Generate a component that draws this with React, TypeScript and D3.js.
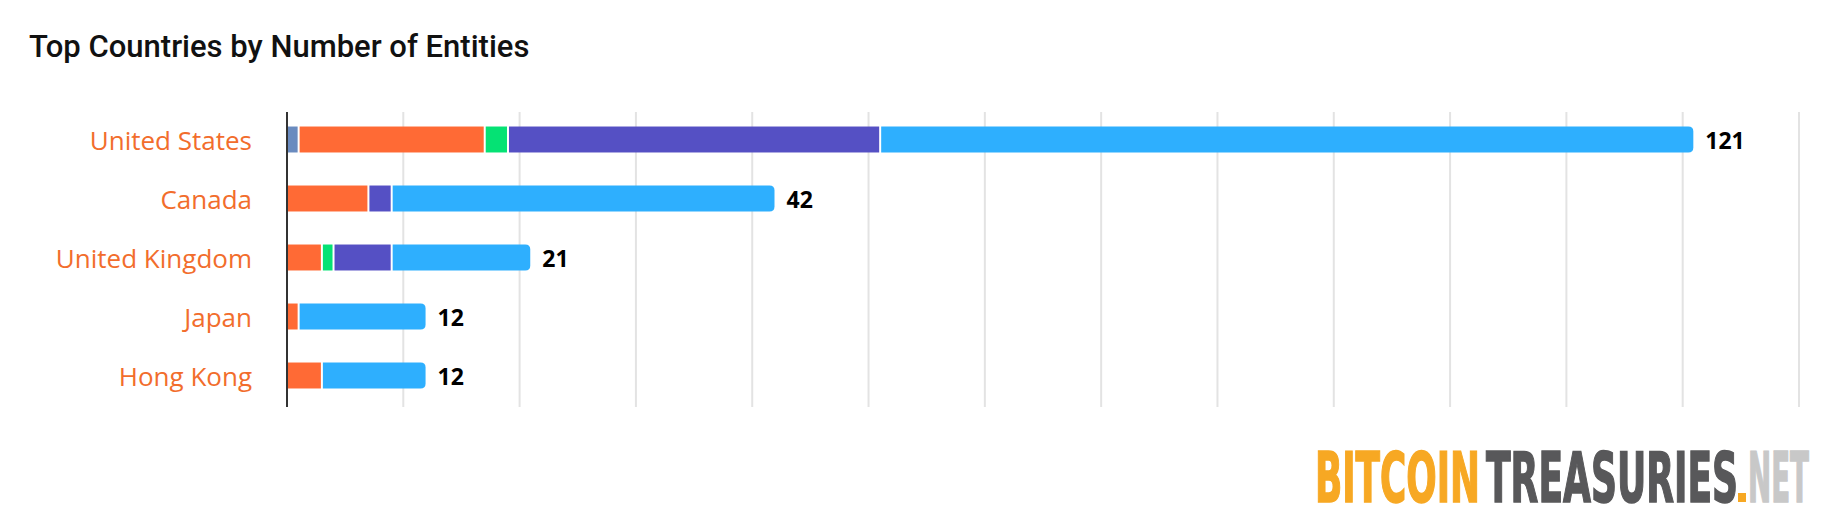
import React, { useEffect, useLayoutEffect, useRef, useState } from "react";
import * as d3 from "d3";

const countries = ["United States", "Canada", "United Kingdom", "Japan", "Hong Kong"];
const seriesNames = ["Governments", "Private Companies", "DeFi", "ETFs", "Public Companies"];
const governments = [1, 0, 0, 0, 0];
const privateCompanies = [16, 7, 3, 1, 3];
const defi = [2, 0, 1, 0, 0];
const etfs = [32, 2, 5, 0, 0];
const publicCompanies = [70, 33, 12, 11, 9];
const seriesColors = ["#6a8bbf", "#ff6a35", "#05e274", "#5550c4", "#2eaffe"];
const xTicks = [10, 20, 30, 40, 50, 60, 70, 80, 90, 100, 110, 120, 130];
const xMax = 130;
const title = "Top Countries by Number of Entities";
const logoWords = ["BITCOIN", "TREASURIES", "NET"];
const logoColors = ["#f7a823", "#58585a", "#c8c8c8"];

const W = 1844;
const H = 510;

function roundedRight(x: number, y: number, w: number, h: number, r: number) {
  const rr = Math.min(r, w, h / 2);
  return `M${x},${y}H${x + w - rr}Q${x + w},${y} ${x + w},${y + rr}V${y + h - rr}Q${x + w},${y + h} ${x + w - rr},${y + h}H${x}Z`;
}

function LogoWord({ x, y, width, fill, text }: { x: number; y: number; width: number; fill: string; text: string }) {
  const ref = useRef<SVGTextElement>(null);
  const [sx, setSx] = useState(0.7);
  useLayoutEffect(() => {
    if (ref.current) {
      const n = ref.current.getComputedTextLength();
      if (n > 0) setSx(width / n);
    }
  }, [width, text]);
  return (
    <g transform={`translate(${x},${y}) scale(${sx},1)`}>
      <text
        ref={ref}
        x={0}
        y={0}
        fontFamily="'Liberation Sans Narrow', 'DejaVu Sans Condensed', sans-serif"
        fontWeight={700}
        fontSize={70}
        fill={fill}
        stroke={fill}
        strokeWidth={1.6}
      >
        {text}
      </text>
    </g>
  );
}

export default function App() {
  useEffect(() => {
    document.body.style.margin = "0";
    document.body.style.overflow = "hidden";
  }, []);

  const seriesValues = [governments, privateCompanies, defi, etfs, publicCompanies];
  const x = d3.scaleLinear().domain([0, xMax]).range([287, 1799]);
  const y = d3
    .scaleBand<string>()
    .domain(countries)
    .range([110, 405])
    .paddingInner(0.56)
    .paddingOuter(0.28);

  const rows = countries.map((c, ci) => {
    let acc = 0;
    const segs: { x0: number; x1: number; color: string; key: string }[] = [];
    seriesValues.forEach((vals, si) => {
      const v = vals[ci];
      if (v > 0) {
        segs.push({ x0: acc, x1: acc + v, color: seriesColors[si], key: seriesNames[si] });
        acc += v;
      }
    });
    return { c, segs, total: acc };
  });

  return (
    <svg width={W} height={H} style={{ position: "absolute", left: 0, top: 0, background: "#fff" }}>
      <rect width={W} height={H} fill="#fff" />
      <text x={29} y={57} fontFamily="Roboto, sans-serif" fontWeight={500} fontSize={31} fill="#111">
        {title}
      </text>
      {xTicks.map((t) => (
        <line key={t} x1={x(t)} x2={x(t)} y1={112} y2={407} stroke="#e3e3e3" strokeWidth={2} />
      ))}
      {rows.map((r) => {
        const y0 = y(r.c)!;
        const bh = y.bandwidth();
        return (
          <g key={r.c}>
            {r.segs.map((s, i) => {
              const left = x(s.x0) + 1;
              const right = x(s.x1) - 1;
              const w = Math.max(0, right - left);
              if (i === r.segs.length - 1) {
                return <path key={s.key} d={roundedRight(left, y0, w, bh, 5)} fill={s.color} />;
              }
              return <rect key={s.key} x={left} y={y0} width={w} height={bh} fill={s.color} />;
            })}
            <text
              x={252}
              y={y0 + bh / 2}
              textAnchor="end"
              dominantBaseline="central"
              fontFamily="'Open Sans', sans-serif"
              fontSize={26}
              fill="#f26d2c"
            >
              {r.c}
            </text>
            <text
              x={x(r.total) + 11}
              y={y0 + bh / 2}
              dominantBaseline="central"
              fontFamily="'Open Sans', sans-serif"
              fontWeight={700}
              fontSize={23}
              fill="#000"
            >
              {r.total}
            </text>
          </g>
        );
      })}
      <line x1={287} x2={287} y1={112} y2={407} stroke="#333" strokeWidth={2} />
      <LogoWord x={1315} y={502} width={165} fill={logoColors[0]} text={logoWords[0]} />
      <LogoWord x={1486} y={502} width={252} fill={logoColors[1]} text={logoWords[1]} />
      <rect x={1738} y={493} width={8} height={9} fill={logoColors[0]} />
      <LogoWord x={1748} y={502} width={61} fill={logoColors[2]} text={logoWords[2]} />
    </svg>
  );
}
